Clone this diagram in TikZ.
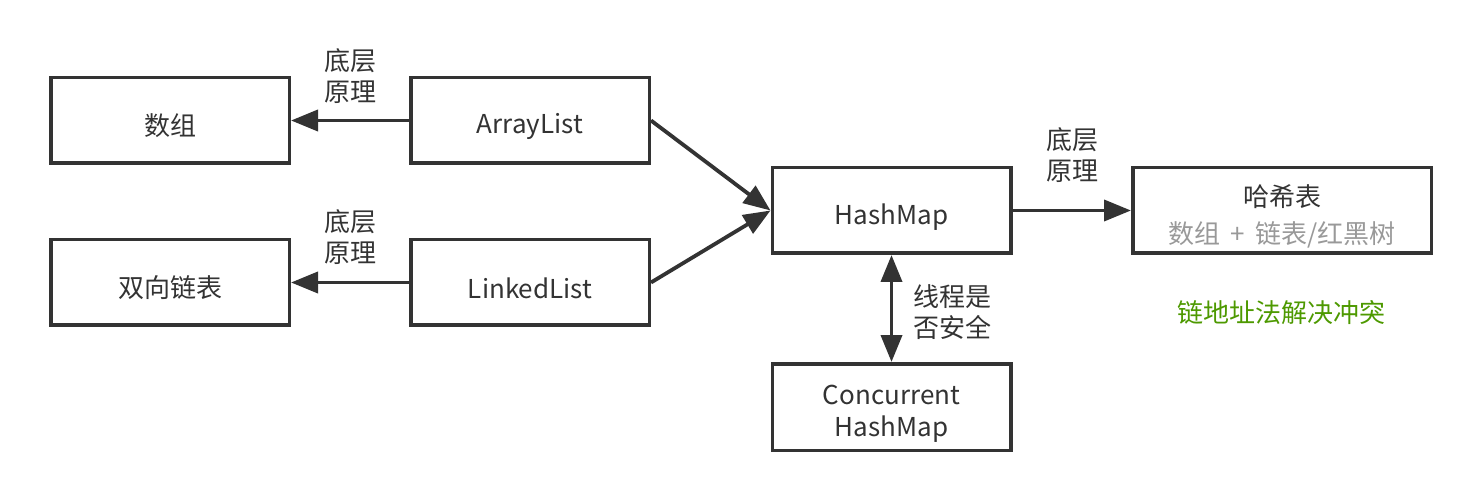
\documentclass[tikz,border=0pt]{standalone}
\usepackage{fontspec}
\setmainfont{Noto Sans CJK SC}
\usetikzlibrary{arrows.meta}
\definecolor{ink}{HTML}{333333}
\definecolor{lightgray}{HTML}{999999}
\definecolor{leafgreen}{HTML}{4D9900}
\newcommand{\mystrut}{\rule{0pt}{33pt}}
\tikzset{
  box/.style={draw=ink, line width=3.5pt, minimum width=238.5pt, minimum height=85.5pt,
    text=ink, align=center, inner sep=0pt, font=\fontsize{26}{32}\selectfont},
  conn/.style={draw=ink, line width=3.8pt, -{Triangle[length=27pt,width=21pt]}},
  biconn/.style={draw=ink, line width=3.8pt, {Triangle[length=27pt,width=21pt]}-{Triangle[length=27pt,width=21pt]}},
  lbl/.style={text=ink, align=center, inner sep=0pt, font=\fontsize{26}{31}\selectfont},
}
\begin{document}
\begin{tikzpicture}[x=1pt,y=-1pt]
\useasboundingbox (0,0) rectangle (1482,502);
\node[box] (arr) at (170,120.5) {\mystrut 数组};
\node[box] (al) at (530,120.5) {\mystrut ArrayList};
\node[box] (dll) at (170,282.5) {\mystrut 双向链表};
\node[box] (ll) at (530,282.5) {\mystrut LinkedList};
\node[box] (hm) at (891.5,210.5) {\mystrut HashMap};
\node[box, minimum width=298.5pt] (ht) at (1282,210.5) {\mystrut 哈希表\\[5pt]\textcolor{lightgray}{数组\hspace{0.4em}+\hspace{0.4em}链表/红黑树}};
\node[box, minimum height=86.5pt] (chm) at (891.5,407) {\mystrut Concurrent\\HashMap};

\draw[conn] (al) -- (arr);
\draw[conn] (ll) -- (dll);
\draw[conn] (al.east) -- (hm.west);
\draw[conn] (ll.east) -- (hm.west);
\draw[conn] (hm) -- (ht);
\draw[biconn] (hm) -- (chm);

\node[lbl] (l1) at (350,76) {底层\\原理};
\node[lbl] (l2) at (350,237) {底层\\原理};
\node[lbl] (l3) at (1072,155.5) {底层\\原理};
\node[lbl, anchor=west] (l4) at (913,312.5) {线程是\\否安全};
\node[lbl, text=leafgreen] (note) at (1281,313) {链地址法解决冲突};
\end{tikzpicture}
\end{document}
